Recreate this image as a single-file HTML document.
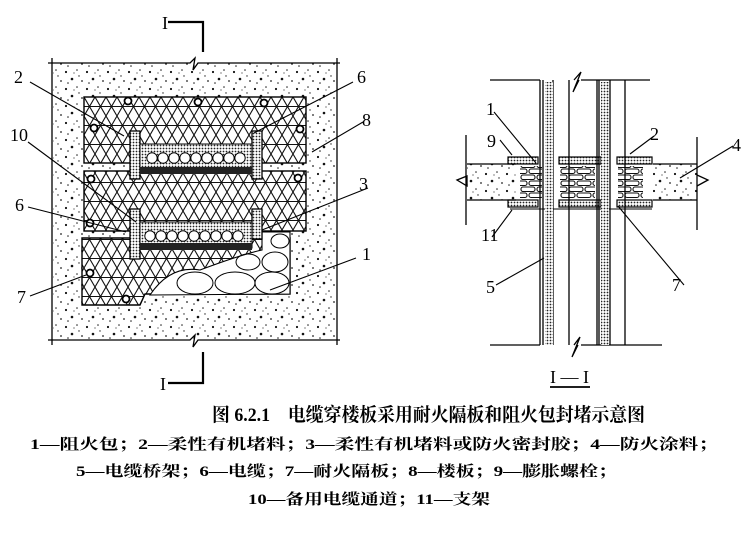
<!DOCTYPE html>
<html><head><meta charset="utf-8"><style>
body{margin:0;background:#fff;width:750px;height:545px;overflow:hidden}
svg{display:block}
text{font-family:"Liberation Serif","Noto Serif CJK SC","Noto Sans CJK SC",serif;fill:#000}
</style></head><body>
<svg width="750" height="545" viewBox="0 0 750 545">
<defs>
<pattern id="sp" width="21" height="17" patternUnits="userSpaceOnUse">
<rect width="21" height="17" fill="#fff"/>
<circle cx="3" cy="4" r="1.1" fill="#111"/><circle cx="14" cy="2" r="0.8" fill="#222"/>
<circle cx="9" cy="11" r="1.3" fill="#111"/><circle cx="19" cy="13" r="0.9" fill="#222"/>
<circle cx="5" cy="15" r="0.8" fill="#222"/><circle cx="16" cy="8" r="0.7" fill="#222"/>
<circle cx="11" cy="5" r="0.6" fill="#333"/>
</pattern>
<pattern id="tri" width="22" height="19" patternUnits="userSpaceOnUse" x="84" y="97">
<rect width="22" height="19" fill="#fff"/>
<path d="M0 19 L11 0 L22 19 M0 0 L11 19 L22 0 M0 9.5 H22" stroke="#111" stroke-width="1.1" fill="none"/>
</pattern>
<pattern id="dot" width="3" height="3" patternUnits="userSpaceOnUse">
<rect width="3" height="3" fill="#fff"/><circle cx="1.5" cy="1.5" r="0.9" fill="#222"/>
</pattern>
<pattern id="brick" width="16" height="12" patternUnits="userSpaceOnUse">
<rect width="16" height="12" fill="#fff"/>
<rect x="1" y="1" width="14" height="4.5" rx="2" fill="none" stroke="#111" stroke-width="1.1"/>
<rect x="-7" y="7" width="14" height="4.5" rx="2" fill="none" stroke="#111" stroke-width="1.1"/>
<rect x="9" y="7" width="14" height="4.5" rx="2" fill="none" stroke="#111" stroke-width="1.1"/>
</pattern>
</defs>

<!-- LEFT PLAN -->
<rect x="53" y="63" width="284" height="277" fill="url(#sp)"/>
<path d="M48 63 H190 L195 58 L193 70 L198 63 H340 M52 58 V345 M337 58 V345 M48 340 H190 L195 335 L193 347 L198 340 H340" stroke="#000" stroke-width="1.3" fill="none"/>
<path d="M168 22 H203 V52 M168 383 H203 V352" stroke="#000" stroke-width="2.2" fill="none"/>
<text x="162" y="29" font-size="18">I</text><text x="160" y="390" font-size="18">I</text>

<rect x="84" y="97" width="222" height="66" fill="url(#tri)" stroke="#000" stroke-width="1.4"/>
<rect x="84" y="171" width="222" height="60" fill="url(#tri)" stroke="#000" stroke-width="1.4"/>
<path d="M82 238 H290 V294 H145 L140 305 H82 Z" fill="url(#tri)" stroke="#000" stroke-width="1.4"/>
<path d="M150 295 Q170 265 200 270 Q240 255 262 250 L262 232 H290 V294 Z" fill="#fff" stroke="#000" stroke-width="1.1"/>
<g fill="none" stroke="#000" stroke-width="1">
<ellipse cx="195" cy="283" rx="18" ry="11"/><ellipse cx="235" cy="283" rx="20" ry="11"/>
<ellipse cx="272" cy="283" rx="17" ry="11"/><ellipse cx="275" cy="262" rx="13" ry="10"/>
<ellipse cx="248" cy="262" rx="12" ry="8"/><ellipse cx="280" cy="241" rx="9" ry="7"/>
</g>
<g>
<rect x="130" y="131" width="10" height="48" fill="url(#dot)" stroke="#000" stroke-width="1.3"/>
<rect x="252" y="131" width="10" height="48" fill="url(#dot)" stroke="#000" stroke-width="1.3"/>
<rect x="140" y="144" width="112" height="26" fill="url(#dot)" stroke="#000"/>
<rect x="140" y="167" width="112" height="7" fill="#222"/>
<g fill="#fff" stroke="#000" stroke-width="1">
<circle cx="152" cy="158" r="5.2"/><circle cx="163" cy="158" r="5.2"/><circle cx="174" cy="158" r="5.2"/><circle cx="185" cy="158" r="5.2"/><circle cx="196" cy="158" r="5.2"/><circle cx="207" cy="158" r="5.2"/><circle cx="218" cy="158" r="5.2"/><circle cx="229" cy="158" r="5.2"/><circle cx="240" cy="158" r="5.2"/>
</g>
<rect x="130" y="209" width="10" height="50" fill="url(#dot)" stroke="#000" stroke-width="1.3"/>
<rect x="252" y="209" width="10" height="30" fill="url(#dot)" stroke="#000" stroke-width="1.3"/>
<rect x="140" y="222" width="112" height="26" fill="url(#dot)" stroke="#000"/>
<rect x="140" y="243" width="112" height="7" fill="#222"/>
<g fill="#fff" stroke="#000" stroke-width="1">
<circle cx="150" cy="236" r="5.2"/><circle cx="161" cy="236" r="5.2"/><circle cx="172" cy="236" r="5.2"/><circle cx="183" cy="236" r="5.2"/><circle cx="194" cy="236" r="5.2"/><circle cx="205" cy="236" r="5.2"/><circle cx="216" cy="236" r="5.2"/><circle cx="227" cy="236" r="5.2"/><circle cx="238" cy="236" r="5.2"/>
</g>
</g>
<g fill="#fff" stroke="#000" stroke-width="1.8">
<circle cx="128" cy="101" r="3.5"/><circle cx="198" cy="102" r="3.5"/><circle cx="264" cy="103" r="3.5"/><circle cx="94" cy="128" r="3.5"/><circle cx="300" cy="129" r="3.5"/>
<circle cx="91" cy="179" r="3.5"/><circle cx="298" cy="178" r="3.5"/><circle cx="90" cy="223" r="3.5"/><circle cx="90" cy="273" r="3.5"/><circle cx="126" cy="299" r="3.5"/>
</g>
<g stroke="#000" stroke-width="1.1">
<path d="M30 82 L124 136 M353 82 L254 133 M363 122 L312 152 M28 142 L136 222 M368 188 L262 230 M28 207 L126 232 M30 296 L86 275 M356 258 L270 290"/>
</g>
<g font-size="18">
<text x="14" y="83">2</text><text x="357" y="83">6</text><text x="362" y="126">8</text><text x="10" y="141">10</text>
<text x="359" y="190">3</text><text x="15" y="211">6</text><text x="17" y="303">7</text><text x="362" y="260">1</text>
</g>

<!-- RIGHT SECTION -->
<rect x="467" y="164" width="230" height="36" fill="url(#sp)"/>
<rect x="516" y="162" width="137" height="40" fill="#fff"/>
<rect x="520" y="166" width="22" height="32" fill="url(#brick)"/>
<rect x="560" y="166" width="35" height="32" fill="url(#brick)"/>
<rect x="618" y="166" width="25" height="32" fill="url(#brick)"/>
<g fill="url(#dot)" stroke="#000" stroke-width="1.2">
<rect x="508" y="157" width="30" height="7"/><rect x="559" y="157" width="42" height="7"/><rect x="617" y="157" width="35" height="7"/>
<rect x="508" y="200" width="30" height="7"/><rect x="559" y="200" width="42" height="7"/><rect x="617" y="200" width="35" height="7"/>
</g>
<path d="M510 209 H652" stroke="#000" stroke-width="1"/>
<g stroke="#000" fill="none" stroke-width="1.3">
<path d="M467 164 H516 M467 200 H516 M653 164 H697 M653 200 H697 M466 135 V225 M697 137 V230"/>
<path d="M457 180 L467 176 L467 186 Z"/><path d="M697 175 L708 180 L697 186"/>
<path d="M490 80 H540 M581 80 H650 M490 345 H540 M581 345 H662"/>
<path d="M574 80 L581 72 L573 92 L579 80 M574 345 L580 337 L572 357 L578 345"/>
<path d="M540 80 V345 M543 80 V345 M553 80 V345 M569 80 V345 M597 80 V345 M599 80 V345 M610 80 V345 M625 80 V345"/>
</g>
<rect x="545" y="82" width="8" height="263" fill="url(#dot)"/>
<rect x="601" y="82" width="8" height="263" fill="url(#dot)"/>
<g stroke="#000" stroke-width="1.1">
<path d="M494 112 L536 163 M500 140 L512 155 M492 237 L512 210 M496 285 L544 258 M654 136 L630 154 M733 146 L680 178 M684 285 L618 206"/>
</g>
<g font-size="18">
<text x="486" y="115">1</text><text x="487" y="147">9</text><text x="650" y="140">2</text><text x="732" y="151">4</text>
<text x="481" y="241">11</text><text x="486" y="293">5</text><text x="672" y="291">7</text>
</g>
<text x="550" y="383" font-size="18">I — I</text>
<path d="M550 387 H590" stroke="#000" stroke-width="1.8"/>

<!-- CAPTION -->
<text x="212" y="421" font-size="19" font-weight="bold" textLength="433" lengthAdjust="spacingAndGlyphs">图 6.2.1　电缆穿楼板采用耐火隔板和阻火包封堵示意图</text>
<text x="30" y="449" font-size="15" font-weight="bold" textLength="688" lengthAdjust="spacingAndGlyphs">1—阻火包；2—柔性有机堵料；3—柔性有机堵料或防火密封胶；4—防火涂料；</text>
<text x="76" y="476" font-size="15" font-weight="bold" textLength="541" lengthAdjust="spacingAndGlyphs">5—电缆桥架；6—电缆；7—耐火隔板；8—楼板；9—膨胀螺栓；</text>
<text x="248" y="504" font-size="15" font-weight="bold" textLength="242" lengthAdjust="spacingAndGlyphs">10—备用电缆通道；11—支架</text>
</svg>
</body></html>
